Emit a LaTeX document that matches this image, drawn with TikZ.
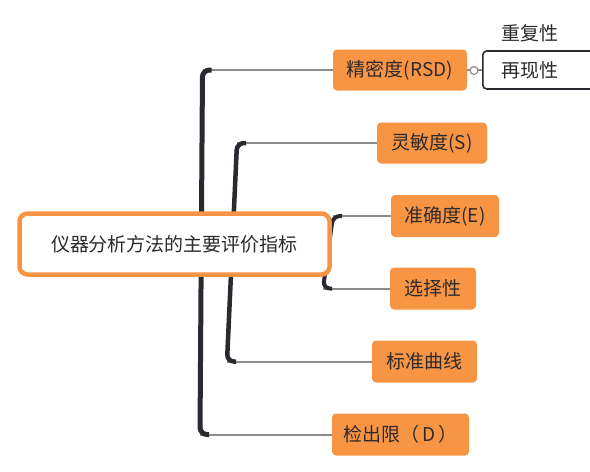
\documentclass[tikz,border=0pt]{standalone}
\usepackage{fontspec}
\setmainfont{Noto Sans CJK SC}
\usetikzlibrary{backgrounds,calc}
\definecolor{orng}{HTML}{F89544}
\definecolor{txt}{HTML}{2E2A2B}
\definecolor{darkline}{HTML}{2B2930}
\definecolor{greyline}{HTML}{8C8C8C}
\tikzset{
  leaf/.style={fill=orng, rounded corners=4pt, minimum height=41pt, inner sep=0pt, text=txt},
  rootbox/.style={draw=orng, fill=white, line width=4.5pt, rounded corners=8pt, minimum width=310pt, minimum height=61pt, inner sep=0pt, text=txt},
  thin/.style={draw=greyline, line width=2pt},
  bracket/.style={draw=darkline, rounded corners=7pt},
  subbox/.style={draw=darkline, fill=white, line width=1.6pt, rounded corners=4pt, minimum height=38pt, inner sep=0pt, anchor=west, text=txt, align=left}
}
\begin{document}
\begin{tikzpicture}[x=1pt,y=-1pt,font=\fontsize{19}{22}\selectfont]
\useasboundingbox (0,0) rectangle (590,472);
\clip (0,0) rectangle (590,472);
% nodes
\node[rootbox] (root) at (174.5,244) {仪器分析方法的主要评价指标};
\node[leaf, minimum width=134pt] (n1) at (400,70) {精密度(RSD)};
\node[leaf, minimum width=110pt] (n2) at (432,143) {灵敏度(S)};
\node[leaf, minimum width=108pt, minimum height=42pt] (n3) at (445,216) {准确度(E)};
\node[leaf, minimum width=86pt, minimum height=42pt] (n4) at (433,288.5) {选择性};
\node[leaf, minimum width=105pt, minimum height=42pt] (n5) at (424.5,361.5) {标准曲线};
\node[leaf, minimum width=137pt, minimum height=42pt] (n6) at (400.5,434.5) {检出限（\hspace{3pt}D\hspace{3pt}）};
\node[text=txt] (rep1) at (530,33.5) {重复性};
\node[subbox] (rep2) at (482,70) {\hspace{19pt}再现性\hspace{80pt}};
\node[circle, draw=greyline, fill=white, line width=1.2pt, minimum size=8pt, inner sep=0pt] (ring) at (474,70.5) {};
% bracket corners
\coordinate (t1) at (202.5,70);   \coordinate (b1) at (200,434.5);
\coordinate (t2) at (237,143);    \coordinate (b2) at (227,361.5);
\coordinate (t3) at (333,216);    \coordinate (b3) at (323,288.5);
\begin{scope}[on background layer]
  \fill[white] (0,0) rectangle (590,472);
  \draw[thin] (t1) -- (n1.west);
  \draw[thin] (b1) -- (n6.west);
  \draw[thin] (t2) -- (n2.west);
  \draw[thin] (b2) -- (n5.west);
  \draw[thin] (t3) -- (n3.west);
  \draw[thin] (b3) -- (n4.west);
  \draw[bracket, line width=5pt] ($(t1)+(9,0)$) -- (t1) -- (b1) -- ($(b1)+(9,0)$);
  \draw[bracket, line width=4.5pt] ($(t2)+(9,0)$) -- (t2) -- (b2) -- ($(b2)+(9,0)$);
  \draw[bracket, line width=4pt] ($(t3)+(9,0)$) -- (t3) -- (b3) -- ($(b3)+(9,0)$);
  \draw[thin, line width=1.5pt] (n1.east) -- (rep2.west);
\end{scope}
\end{tikzpicture}
\end{document}
